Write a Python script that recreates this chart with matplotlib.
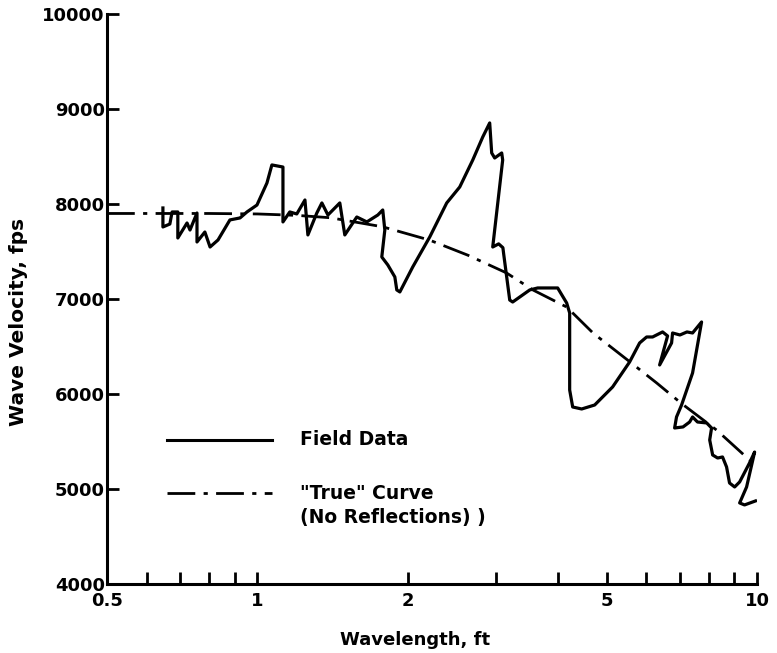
import matplotlib
matplotlib.use("Agg")
import matplotlib.pyplot as plt
from matplotlib.ticker import FixedLocator, NullFormatter

plt.rcParams['font.family'] = ['DejaVu Sans']
plt.rcParams['font.weight'] = 'bold'

# wavelength (ft) and wave velocity (fps)
field_x = [0.647, 0.647, 0.668, 0.675, 0.693, 0.693, 0.723, 0.733, 0.757, 0.757,
           0.785, 0.804, 0.834, 0.881, 0.923, 0.953, 0.998, 1.045, 1.069, 1.125,
           1.125, 1.161, 1.199, 1.245, 1.262, 1.315, 1.346, 1.384, 1.429, 1.462,
           1.496, 1.581, 1.656, 1.742, 1.782, 1.799, 1.774, 1.824, 1.884, 1.901,
           1.928, 2.046, 2.213, 2.393, 2.541, 2.698, 2.825, 2.917, 2.944, 2.985,
           3.083, 3.097, 2.958, 3.040, 3.100, 3.110, 3.199, 3.243, 3.508, 3.639,
           3.990, 4.159, 4.217, 4.217, 4.276, 4.457, 4.732, 5.140, 5.559, 5.821,
           6.012, 6.180, 6.471, 6.622, 6.383, 6.745, 6.776, 7.01, 7.24, 7.43,
           7.745, 7.43, 7.063, 6.90, 6.84, 7.11, 7.33, 7.43, 7.60, 7.93,
           8.11, 8.04, 8.15, 8.34, 8.53, 8.69, 8.81, 9.02, 9.23, 9.66,
           9.89, 9.53, 9.23, 9.44, 9.93]
field_y = [7958, 7758, 7789, 7916, 7916, 7642, 7800, 7726, 7905, 7600,
           7705, 7547, 7621, 7832, 7853, 7916, 7989, 8221, 8411, 8389,
           7811, 7916, 7895, 8042, 7674, 7905, 8011, 7884, 7958, 8011,
           7674, 7863, 7811, 7884, 7937, 7726, 7442, 7358, 7232, 7095,
           7074, 7337, 7653, 8011, 8179, 8463, 8705, 8853, 8537, 8484,
           8537, 8463, 7547, 7580, 7540, 7480, 6989, 6968, 7095, 7116,
           7116, 6958, 6853, 6042, 5863, 5842, 5884, 6074, 6337, 6537,
           6600, 6600, 6653, 6611, 6305, 6537, 6642, 6621, 6653, 6642,
           6758, 6221, 5884, 5758, 5642, 5653, 5705, 5758, 5705, 5695,
           5642, 5516, 5358, 5326, 5337, 5232, 5063, 5021, 5074, 5274,
           5389, 5021, 4853, 4832, 4874]

true_x = [0.5, 0.8, 1.0, 1.2, 1.4, 1.78, 2.21, 2.64, 3.15, 3.56, 4.16, 4.70,
          5.56, 6.30, 7.06, 8.30, 9.66, 10.0]
true_y = [7900, 7900, 7895, 7880, 7855, 7760, 7620, 7460, 7275, 7095, 6915, 6640,
          6340, 6115, 5900, 5620, 5305, 5240]

x_major = [0.5, 1, 2, 5, 10]
x_major_labels = ['0.5', '1', '2', '5', '10']
x_minor = [0.6, 0.7, 0.8, 0.9, 3, 4, 6, 7, 8, 9]
y_ticks = [4000, 5000, 6000, 7000, 8000, 9000, 10000]

dashdot = (0, (10, 3, 1.5, 3))

fig = plt.figure(figsize=(7.77, 6.53), dpi=100)
ax = fig.add_axes([0.1377, 0.1057, 0.8366, 0.8729])

ax.plot(field_x, field_y, color='black', lw=2.3, solid_joinstyle='round')
ax.plot(true_x, true_y, color='black', lw=2.0, ls=dashdot)

ax.set_xscale('log')
ax.set_xlim(0.5, 10)
ax.set_ylim(4000, 10000)
ax.xaxis.set_major_locator(FixedLocator(x_major))
ax.set_xticklabels(x_major_labels)
ax.xaxis.set_minor_locator(FixedLocator(x_minor))
ax.xaxis.set_minor_formatter(NullFormatter())
ax.set_yticks(y_ticks)

for side in ['top', 'right']:
    ax.spines[side].set_visible(False)
for side in ['left', 'bottom']:
    ax.spines[side].set_linewidth(2.2)

ax.tick_params(axis='both', which='both', direction='in', width=2, length=8.5,
               labelsize=13)
ax.tick_params(axis='x', pad=6)
ax.tick_params(axis='y', pad=1.5)

ax.set_xlabel('Wavelength, ft', fontsize=13, fontweight='bold')
ax.set_ylabel('Wave Velocity, fps', fontsize=14.5, fontweight='bold')
ax.xaxis.set_label_coords(0.474, -0.082)
ax.yaxis.set_label_coords(-0.122, 0.46)

# legend drawn by hand, no frame
ax.plot([0.092, 0.254], [0.2526, 0.2526], transform=ax.transAxes,
        color='black', lw=2.2)
ax.plot([0.092, 0.254], [0.1596, 0.1596], transform=ax.transAxes,
        color='black', lw=2.0, ls=dashdot)
ax.text(0.297, 0.2526, 'Field Data', transform=ax.transAxes, fontsize=13.5,
        fontweight='bold', va='center', ha='left')
ax.text(0.297, 0.1596, '"True" Curve', transform=ax.transAxes, fontsize=13.5,
        fontweight='bold', va='center', ha='left')
ax.text(0.297, 0.116, '(No Reflections) )', transform=ax.transAxes,
        fontsize=13.5, fontweight='bold', va='center', ha='left')

fig.savefig('out.png', dpi=100)
